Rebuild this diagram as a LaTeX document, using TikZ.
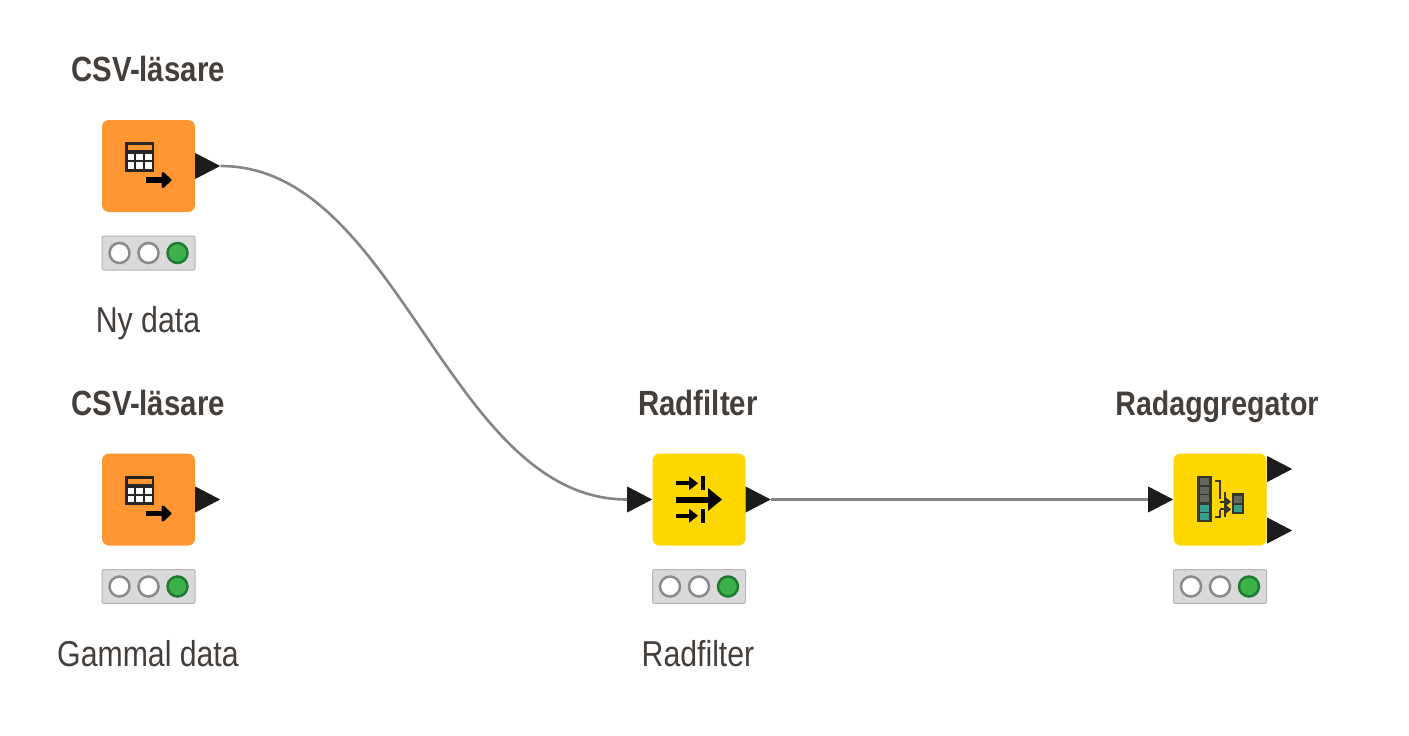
\documentclass[tikz,border=0pt]{standalone}
\usepackage{fontspec}
\setmainfont[FakeStretch=0.84]{Liberation Sans}
\usetikzlibrary{shapes.geometric}
\definecolor{txt}{HTML}{453F3B}
\definecolor{orangeN}{HTML}{FF9632}
\definecolor{yellowN}{HTML}{FFD700}
\definecolor{portK}{HTML}{1C1C1C}
\definecolor{wire}{HTML}{858585}
\definecolor{lightbar}{HTML}{D9D9D9}
\definecolor{barline}{HTML}{B5B5B5}
\definecolor{ringG}{HTML}{8A8A8A}
\definecolor{ledG}{HTML}{3CB14A}
\definecolor{ledD}{HTML}{1F7A33}
\definecolor{tealN}{HTML}{3A9E8E}
\definecolor{greyN}{HTML}{666660}
\definecolor{darkN}{HTML}{38362A}
\tikzset{
  x=1pt,y=-1pt,
  nodebox/.style={minimum width=93pt,minimum height=92pt,inner sep=0pt,rounded corners=7pt,draw=none},
  source/.style={nodebox,fill=orangeN},
  manip/.style={nodebox,fill=yellowN},
  port/.style={isosceles triangle,isosceles triangle apex angle=55,isosceles triangle stretches,
    minimum width=26pt,minimum height=25pt,inner sep=0pt,fill=portK,draw=none},
  bar/.style={minimum width=93pt,minimum height=34pt,inner sep=0pt,rounded corners=2pt,fill=lightbar,draw=barline,line width=1pt},
  lamp/.style={circle,minimum size=20pt,inner sep=0pt,fill=white,draw=ringG,line width=2.5pt},
  lampon/.style={circle,minimum size=20pt,inner sep=0pt,fill=ledG,draw=ledD,line width=2.5pt},
  title/.style={font=\fontsize{35}{38}\selectfont\bfseries,text=txt,inner sep=0pt,anchor=base},
  caption/.style={font=\fontsize{36}{39}\selectfont,text=txt,inner sep=0pt,anchor=base},
  conn/.style={draw=wire,line width=2.6pt},
  ink/.style={draw=black,line cap=butt},
  glyph/.style={draw=darkN,line width=2.2pt},
}
\newcommand{\status}[3]{%
  \node[bar] (#1bar) at (#2,#3) {};
  \node[lamp] (#1a) at (#2-29,#3) {};
  \node[lamp] (#1b) at (#2,#3) {};
  \node[lampon] (#1c) at (#2+29,#3) {};
}
\newcommand{\readericon}[2]{%
  \begin{scope}[shift={(#1,#2)}]
    \fill[black!85] (-23.5,-23.7) rectangle (5.8,5.7);
    \fill[orangeN] (-20.8,-21) rectangle (3.2,-16);
    \foreach \cx in {-20.8,-12.5,-3.5} \foreach \cy in {-12,-3.7}
      \fill[white] (\cx,\cy) rectangle (\cx+6.6,\cy+6.2);
    \draw[ink,line width=5.5pt] (-2.8,14) -- (17,14);
    \fill[black,rounded corners=1pt] (23.5,14) -- (15,6) -- (13,6) -- (13,22) -- (15,22) -- cycle;
  \end{scope}}
\newcommand{\smallarrow}[2]{%
  \draw[ink,line width=4pt] (#1-23.3,#2) -- (#1-8,#2);
  \fill[black] (#1-1,#2) -- (#1-10,#2-7) -- (#1-10,#2+7) -- cycle;
  \draw[ink,line width=4pt] (#1+4,#2-7) -- (#1+4,#2+7);}
\begin{document}
\begin{tikzpicture}
\useasboundingbox (0,0) rectangle (1409,736);
\fill[white] (0,0) rectangle (1409,736);

% nodes
\node[source] (n1) at (148.5,166) {};
\node[source] (n2) at (148.5,499.5) {};
\node[manip] (n3) at (699,499.5) {};
\node[manip] (n4) at (1220,499.5) {};

% ports
\node[port,anchor=lower side] (p1) at (195,166) {};
\node[port,anchor=lower side] (p2) at (195,499.5) {};
\node[port,anchor=lower side] (p3i) at (627,499.5) {};
\node[port,anchor=lower side] (p3o) at (745.5,499.5) {};
\node[port,anchor=lower side] (p4i) at (1148,499.5) {};
\node[port,anchor=lower side] (p4a) at (1267,469) {};
\node[port,anchor=lower side] (p4b) at (1267,530.5) {};

% connectors
\draw[conn] (p1.apex) .. controls (399,166) and (448,499.5) .. (p3i.lower side);
\draw[conn] (p3o.apex) -- (p4i.lower side);

% status bars
\status{s1}{148.5}{253}
\status{s2}{148.5}{586.5}
\status{s3}{699}{586.5}
\status{s4}{1220}{586.5}

% icons
\readericon{148.5}{166}
\readericon{148.5}{499.5}
\smallarrow{699}{483.3}
\smallarrow{699}{515.7}
\draw[ink,line width=6pt] (675.7,499.5) -- (710,499.5);
\fill[black] (722,499.5) -- (708,488) -- (708,511) -- cycle;

\fill[darkN] (1197.3,476) rectangle (1211.7,521.7);
\foreach \yy in {478,486.5,495} \fill[greyN] (1200,\yy) rectangle (1209,\yy+7);
\foreach \yy in {505,513} \fill[tealN] (1200,\yy) rectangle (1209,\yy+7);
\fill[darkN] (1231.7,493.3) rectangle (1244,514);
\fill[greyN] (1234,496) rectangle (1241.7,503);
\fill[tealN] (1234,504.5) rectangle (1241.7,511.5);
\draw[glyph] (1215,480.7) -- (1220,480.7) -- (1220,499);
\draw[glyph] (1215,516.7) -- (1220,516.7) -- (1220,510);
\draw[glyph] (1225,492) -- (1225,517);
\draw[glyph] (1220,501.7) -- (1228,501.7);
\draw[glyph] (1220,509.3) -- (1228,509.3);
\fill[darkN] (1231,501.7) -- (1226,497.5) -- (1226,505.9) -- cycle;
\fill[darkN] (1231,509.3) -- (1226,505.1) -- (1226,513.5) -- cycle;

% labels
\node[title] (t1) at (148,81) {CSV-läsare};
\node[title] (t2) at (148,415) {CSV-läsare};
\node[title] (t3) at (698,415) {Radfilter};
\node[title,font=\fontsize{34}{38}\selectfont\bfseries] (t4) at (1217,415) {Radaggregator};
\node[caption] (c1) at (148,332) {Ny data};
\node[caption] (c2) at (148,666) {Gammal data};
\node[caption] (c3) at (698,666) {Radfilter};
\end{tikzpicture}
\end{document}
